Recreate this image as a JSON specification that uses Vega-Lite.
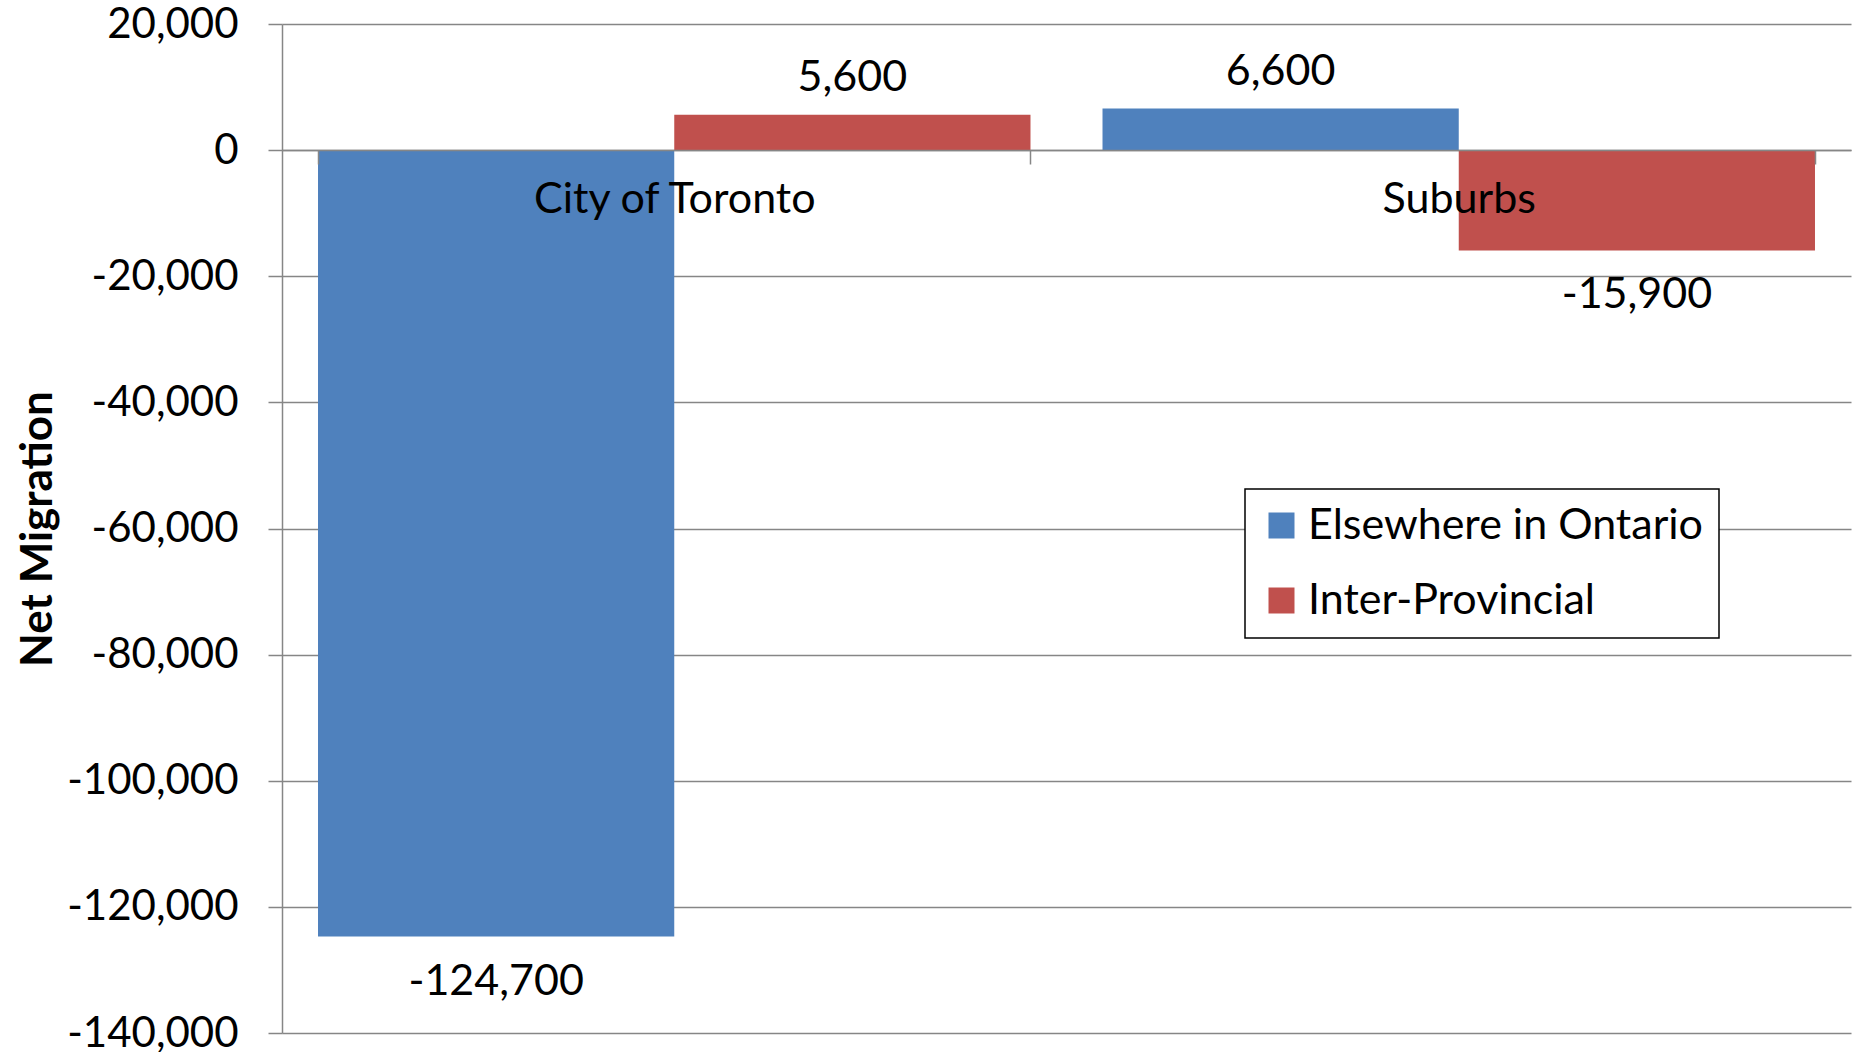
{
  "$schema": "https://vega.github.io/schema/vega-lite/v6.json",
  "autosize": {"type": "none"},
  "padding": {"left": 282, "top": 24, "right": 7, "bottom": 19},
  "width": 1569,
  "height": 1009,
  "background": "white",
  "config": {
    "view": {"stroke": null},
    "font": "Lato",
    "axis": {"labelFont": "Lato", "titleFont": "Lato", "labelColor": "black", "titleColor": "black"}
  },
  "data": {
    "values": [
      {"area": "City of Toronto", "source": "Elsewhere in Ontario", "net": -124700, "label": "-124,700"},
      {"area": "City of Toronto", "source": "Inter-Provincial", "net": 5600, "label": "5,600"},
      {"area": "Suburbs", "source": "Elsewhere in Ontario", "net": 6600, "label": "6,600"},
      {"area": "Suburbs", "source": "Inter-Provincial", "net": -15900, "label": "-15,900"}
    ]
  },
  "encoding": {
    "x": {
      "field": "area", "type": "nominal", "sort": ["City of Toronto", "Suburbs"],
      "scale": {"paddingInner": 0.0918, "paddingOuter": 0.0459},
      "axis": {
        "title": null, "orient": "bottom", "offset": -883, "labelAngle": 0,
        "labelFontSize": 43, "labelPadding": 14, "labelLimit": 0, "tickSize": 14, "tickBand": "extent",
        "domainColor": "#868686", "domainWidth": 1.5, "tickColor": "#868686", "tickWidth": 1.5,
        "zindex": 1
      }
    },
    "xOffset": {"field": "source", "type": "nominal", "sort": ["Elsewhere in Ontario", "Inter-Provincial"], "scale": {"paddingInner": 0, "paddingOuter": 0}},
    "y": {
      "field": "net", "type": "quantitative",
      "scale": {"domain": [-140000, 20000], "nice": false, "zero": false},
      "axis": {
        "title": "Net Migration", "titleFontSize": 44, "titleFontWeight": "bold", "titlePadding": 22,
        "values": [20000, 0, -20000, -40000, -60000, -80000, -100000, -120000, -140000],
        "labelExpr": "replace(format(datum.value, ',d'), '\u2212', '-')",
        "labelFontSize": 42, "labelPadding": 30, "labelLimit": 0, "tickSize": 14,
        "tickColor": "#868686", "tickWidth": 1.5, "domainColor": "#868686", "domainWidth": 1.5,
        "gridColor": "#868686", "gridWidth": 1.5, "grid": true
      }
    }
  },
  "layer": [
    {
      "mark": {"type": "bar"},
      "encoding": {
        "color": {
          "field": "source", "type": "nominal",
          "scale": {"domain": ["Elsewhere in Ontario", "Inter-Provincial"], "range": ["#4F81BD", "#C0504D"]},
          "legend": {
            "title": null, "orient": "none", "legendX": 963, "legendY": 465,
            "direction": "vertical",
            "symbolType": "square", "symbolSize": 676, "symbolStrokeWidth": 0,
            "labelFontSize": 43, "labelFont": "Lato", "labelColor": "black", "labelOffset": 5, "labelLimit": 0,
            "rowPadding": 31, "padding": 15,
            "strokeColor": "black", "fillColor": "white",
            "encode": {"legend": {"update": {"strokeWidth": {"value": 1.5}}}}
          }
        }
      }
    },
    {
      "transform": [{"filter": "datum.net >= 0"}],
      "mark": {"type": "text", "baseline": "bottom", "dy": -15, "fontSize": 43, "color": "black"},
      "encoding": {"text": {"field": "label"}}
    },
    {
      "transform": [{"filter": "datum.net < 0"}],
      "mark": {"type": "text", "baseline": "top", "dy": 24, "fontSize": 43, "color": "black"},
      "encoding": {"text": {"field": "label"}}
    }
  ]
}
